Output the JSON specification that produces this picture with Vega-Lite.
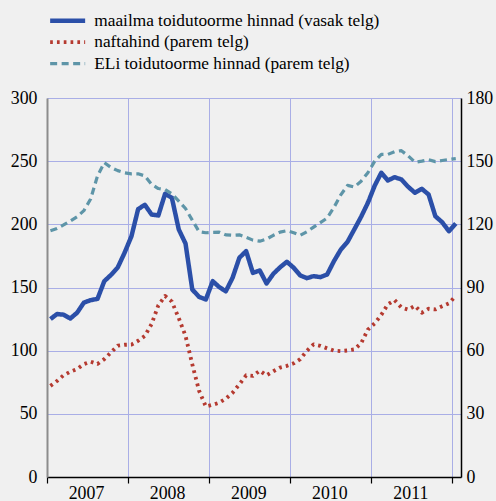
{
  "$schema": "https://vega.github.io/schema/vega-lite/v6.json",
  "width": 414,
  "height": 379,
  "autosize": {"type": "none"},
  "padding": {"left": 47, "top": 98, "right": 35, "bottom": 24},
  "background": "#f0f0f0",
  "config": {
    "view": {"stroke": null},
    "font": "Liberation Serif",
    "line": {"strokeCap": "butt", "strokeJoin": "round"},
    "axis": {"labelFont": "Liberation Serif", "labelFontSize": 17.8, "labelColor": "#000", "gridColor": "#a9aee6", "gridWidth": 1, "gridOpacity": 1, "title": null}
  },
  "data": {"values": [
    {"date": "2007-01", "maailma toidutoorme hinnad (vasak telg)": 125, "naftahind (parem telg)": 43.3, "ELi toidutoorme hinnad (parem telg)": 117},
    {"date": "2007-02", "maailma toidutoorme hinnad (vasak telg)": 129, "naftahind (parem telg)": 45.6, "ELi toidutoorme hinnad (parem telg)": 118},
    {"date": "2007-03", "maailma toidutoorme hinnad (vasak telg)": 128.5, "naftahind (parem telg)": 48.3, "ELi toidutoorme hinnad (parem telg)": 119.7},
    {"date": "2007-04", "maailma toidutoorme hinnad (vasak telg)": 125.5, "naftahind (parem telg)": 50, "ELi toidutoorme hinnad (parem telg)": 121.6},
    {"date": "2007-05", "maailma toidutoorme hinnad (vasak telg)": 130, "naftahind (parem telg)": 51.3, "ELi toidutoorme hinnad (parem telg)": 123.6},
    {"date": "2007-06", "maailma toidutoorme hinnad (vasak telg)": 138, "naftahind (parem telg)": 53.6, "ELi toidutoorme hinnad (parem telg)": 126.5},
    {"date": "2007-07", "maailma toidutoorme hinnad (vasak telg)": 140, "naftahind (parem telg)": 54.8, "ELi toidutoorme hinnad (parem telg)": 132},
    {"date": "2007-08", "maailma toidutoorme hinnad (vasak telg)": 141, "naftahind (parem telg)": 53.7, "ELi toidutoorme hinnad (parem telg)": 143},
    {"date": "2007-09", "maailma toidutoorme hinnad (vasak telg)": 155, "naftahind (parem telg)": 56, "ELi toidutoorme hinnad (parem telg)": 149.3},
    {"date": "2007-10", "maailma toidutoorme hinnad (vasak telg)": 160, "naftahind (parem telg)": 59.2, "ELi toidutoorme hinnad (parem telg)": 147},
    {"date": "2007-11", "maailma toidutoorme hinnad (vasak telg)": 166, "naftahind (parem telg)": 62.4, "ELi toidutoorme hinnad (parem telg)": 145.5},
    {"date": "2007-12", "maailma toidutoorme hinnad (vasak telg)": 177.5, "naftahind (parem telg)": 62.8, "ELi toidutoorme hinnad (parem telg)": 144.5},
    {"date": "2008-01", "maailma toidutoorme hinnad (vasak telg)": 190.6, "naftahind (parem telg)": 62.9, "ELi toidutoorme hinnad (parem telg)": 144},
    {"date": "2008-02", "maailma toidutoorme hinnad (vasak telg)": 212, "naftahind (parem telg)": 64.7, "ELi toidutoorme hinnad (parem telg)": 144},
    {"date": "2008-03", "maailma toidutoorme hinnad (vasak telg)": 215.5, "naftahind (parem telg)": 67, "ELi toidutoorme hinnad (parem telg)": 143},
    {"date": "2008-04", "maailma toidutoorme hinnad (vasak telg)": 207.8, "naftahind (parem telg)": 72.6, "ELi toidutoorme hinnad (parem telg)": 139},
    {"date": "2008-05", "maailma toidutoorme hinnad (vasak telg)": 207, "naftahind (parem telg)": 81.5, "ELi toidutoorme hinnad (parem telg)": 137},
    {"date": "2008-06", "maailma toidutoorme hinnad (vasak telg)": 224.2, "naftahind (parem telg)": 86, "ELi toidutoorme hinnad (parem telg)": 136.5},
    {"date": "2008-07", "maailma toidutoorme hinnad (vasak telg)": 221, "naftahind (parem telg)": 83.3, "ELi toidutoorme hinnad (parem telg)": 134.5},
    {"date": "2008-08", "maailma toidutoorme hinnad (vasak telg)": 196, "naftahind (parem telg)": 75.5, "ELi toidutoorme hinnad (parem telg)": 131},
    {"date": "2008-09", "maailma toidutoorme hinnad (vasak telg)": 184.8, "naftahind (parem telg)": 67, "ELi toidutoorme hinnad (parem telg)": 127.5},
    {"date": "2008-10", "maailma toidutoorme hinnad (vasak telg)": 148.4, "naftahind (parem telg)": 53.5, "ELi toidutoorme hinnad (parem telg)": 122},
    {"date": "2008-11", "maailma toidutoorme hinnad (vasak telg)": 142.6, "naftahind (parem telg)": 41, "ELi toidutoorme hinnad (parem telg)": 116.5},
    {"date": "2008-12", "maailma toidutoorme hinnad (vasak telg)": 140.5, "naftahind (parem telg)": 33.5, "ELi toidutoorme hinnad (parem telg)": 116},
    {"date": "2009-01", "maailma toidutoorme hinnad (vasak telg)": 155, "naftahind (parem telg)": 34.3, "ELi toidutoorme hinnad (parem telg)": 116.2},
    {"date": "2009-02", "maailma toidutoorme hinnad (vasak telg)": 150.3, "naftahind (parem telg)": 35.3, "ELi toidutoorme hinnad (parem telg)": 116.3},
    {"date": "2009-03", "maailma toidutoorme hinnad (vasak telg)": 147, "naftahind (parem telg)": 37.2, "ELi toidutoorme hinnad (parem telg)": 115},
    {"date": "2009-04", "maailma toidutoorme hinnad (vasak telg)": 157.7, "naftahind (parem telg)": 40, "ELi toidutoorme hinnad (parem telg)": 114.8},
    {"date": "2009-05", "maailma toidutoorme hinnad (vasak telg)": 173.5, "naftahind (parem telg)": 44, "ELi toidutoorme hinnad (parem telg)": 115},
    {"date": "2009-06", "maailma toidutoorme hinnad (vasak telg)": 178.8, "naftahind (parem telg)": 48.3, "ELi toidutoorme hinnad (parem telg)": 113.8},
    {"date": "2009-07", "maailma toidutoorme hinnad (vasak telg)": 161.6, "naftahind (parem telg)": 48, "ELi toidutoorme hinnad (parem telg)": 112.5},
    {"date": "2009-08", "maailma toidutoorme hinnad (vasak telg)": 163.5, "naftahind (parem telg)": 50.5, "ELi toidutoorme hinnad (parem telg)": 112},
    {"date": "2009-09", "maailma toidutoorme hinnad (vasak telg)": 153.2, "naftahind (parem telg)": 48.3, "ELi toidutoorme hinnad (parem telg)": 113},
    {"date": "2009-10", "maailma toidutoorme hinnad (vasak telg)": 160.8, "naftahind (parem telg)": 50.2, "ELi toidutoorme hinnad (parem telg)": 114.8},
    {"date": "2009-11", "maailma toidutoorme hinnad (vasak telg)": 166, "naftahind (parem telg)": 52, "ELi toidutoorme hinnad (parem telg)": 116.3},
    {"date": "2009-12", "maailma toidutoorme hinnad (vasak telg)": 170.4, "naftahind (parem telg)": 52.8, "ELi toidutoorme hinnad (parem telg)": 117},
    {"date": "2010-01", "maailma toidutoorme hinnad (vasak telg)": 165.6, "naftahind (parem telg)": 54, "ELi toidutoorme hinnad (parem telg)": 116},
    {"date": "2010-02", "maailma toidutoorme hinnad (vasak telg)": 159.5, "naftahind (parem telg)": 56, "ELi toidutoorme hinnad (parem telg)": 114.8},
    {"date": "2010-03", "maailma toidutoorme hinnad (vasak telg)": 157.4, "naftahind (parem telg)": 59.9, "ELi toidutoorme hinnad (parem telg)": 116.5},
    {"date": "2010-04", "maailma toidutoorme hinnad (vasak telg)": 159, "naftahind (parem telg)": 63, "ELi toidutoorme hinnad (parem telg)": 118.7},
    {"date": "2010-05", "maailma toidutoorme hinnad (vasak telg)": 158.2, "naftahind (parem telg)": 62.3, "ELi toidutoorme hinnad (parem telg)": 120.8},
    {"date": "2010-06", "maailma toidutoorme hinnad (vasak telg)": 160.3, "naftahind (parem telg)": 61.1, "ELi toidutoorme hinnad (parem telg)": 123},
    {"date": "2010-07", "maailma toidutoorme hinnad (vasak telg)": 170.8, "naftahind (parem telg)": 60, "ELi toidutoorme hinnad (parem telg)": 128},
    {"date": "2010-08", "maailma toidutoorme hinnad (vasak telg)": 180, "naftahind (parem telg)": 59.8, "ELi toidutoorme hinnad (parem telg)": 134},
    {"date": "2010-09", "maailma toidutoorme hinnad (vasak telg)": 186.2, "naftahind (parem telg)": 60.1, "ELi toidutoorme hinnad (parem telg)": 138.5},
    {"date": "2010-10", "maailma toidutoorme hinnad (vasak telg)": 196, "naftahind (parem telg)": 60.6, "ELi toidutoorme hinnad (parem telg)": 137.7},
    {"date": "2010-11", "maailma toidutoorme hinnad (vasak telg)": 206, "naftahind (parem telg)": 63.5, "ELi toidutoorme hinnad (parem telg)": 140.5},
    {"date": "2010-12", "maailma toidutoorme hinnad (vasak telg)": 217, "naftahind (parem telg)": 70, "ELi toidutoorme hinnad (parem telg)": 144.5},
    {"date": "2011-01", "maailma toidutoorme hinnad (vasak telg)": 230.7, "naftahind (parem telg)": 73, "ELi toidutoorme hinnad (parem telg)": 150},
    {"date": "2011-02", "maailma toidutoorme hinnad (vasak telg)": 240.8, "naftahind (parem telg)": 77, "ELi toidutoorme hinnad (parem telg)": 153.2},
    {"date": "2011-03", "maailma toidutoorme hinnad (vasak telg)": 234.7, "naftahind (parem telg)": 82, "ELi toidutoorme hinnad (parem telg)": 153.2},
    {"date": "2011-04", "maailma toidutoorme hinnad (vasak telg)": 237.3, "naftahind (parem telg)": 84, "ELi toidutoorme hinnad (parem telg)": 154.5},
    {"date": "2011-05", "maailma toidutoorme hinnad (vasak telg)": 235.5, "naftahind (parem telg)": 80.5, "ELi toidutoorme hinnad (parem telg)": 155},
    {"date": "2011-06", "maailma toidutoorme hinnad (vasak telg)": 229.7, "naftahind (parem telg)": 79.5, "ELi toidutoorme hinnad (parem telg)": 152.5},
    {"date": "2011-07", "maailma toidutoorme hinnad (vasak telg)": 225, "naftahind (parem telg)": 81.3, "ELi toidutoorme hinnad (parem telg)": 149.5},
    {"date": "2011-08", "maailma toidutoorme hinnad (vasak telg)": 228.1, "naftahind (parem telg)": 78, "ELi toidutoorme hinnad (parem telg)": 150},
    {"date": "2011-09", "maailma toidutoorme hinnad (vasak telg)": 223.6, "naftahind (parem telg)": 79.9, "ELi toidutoorme hinnad (parem telg)": 150.7},
    {"date": "2011-10", "maailma toidutoorme hinnad (vasak telg)": 206.4, "naftahind (parem telg)": 79.6, "ELi toidutoorme hinnad (parem telg)": 149.8},
    {"date": "2011-11", "maailma toidutoorme hinnad (vasak telg)": 201.7, "naftahind (parem telg)": 81.1, "ELi toidutoorme hinnad (parem telg)": 150.3},
    {"date": "2011-12", "maailma toidutoorme hinnad (vasak telg)": 194.6, "naftahind (parem telg)": 82.5, "ELi toidutoorme hinnad (parem telg)": 150.8},
    {"date": "2012-01", "maailma toidutoorme hinnad (vasak telg)": 200.7, "naftahind (parem telg)": 86, "ELi toidutoorme hinnad (parem telg)": 151.2}
  ]},
  "transform": [
    {"fold": ["maailma toidutoorme hinnad (vasak telg)", "naftahind (parem telg)", "ELi toidutoorme hinnad (parem telg)"], "as": ["series", "value"]}
  ],
  "encoding": {
    "x": {
      "field": "date",
      "timeUnit": "utcyearmonth",
      "type": "temporal",
      "bandPosition": 0.5,
      "scale": {"type": "utc", "domain": [{"year": 2007, "month": 1, "date": 1, "utc": true}, {"year": 2012, "month": 2, "date": 9, "utc": true}]},
      "axis": {
        "title": null,
        "values": [
          {"year": 2007, "month": 1, "date": 1, "utc": true},
          {"year": 2008, "month": 1, "date": 1, "utc": true},
          {"year": 2009, "month": 1, "date": 1, "utc": true},
          {"year": 2010, "month": 1, "date": 1, "utc": true},
          {"year": 2011, "month": 1, "date": 1, "utc": true},
          {"year": 2012, "month": 1, "date": 1, "utc": true}
        ],
        "labelExpr": "utcyear(datum.value) < 2012 ? utcFormat(datum.value, '%Y') : ''",
        "labelOffset": 39,
        "labelAlign": "center",
        "labelFlush": false,
        "labelOverlap": false,
        "labelBound": false,
        "labelPadding": 1,
        "tickSize": 6,
        "tickColor": "#000",
        "tickWidth": 1.2,
        "domainColor": "#000",
        "domainWidth": 1.5,
        "grid": true
      }
    },
    "color": {
      "field": "series",
      "type": "nominal",
      "scale": {
        "domain": ["maailma toidutoorme hinnad (vasak telg)", "naftahind (parem telg)", "ELi toidutoorme hinnad (parem telg)"],
        "range": ["#2b4fa8", "#b53a30", "#5e95a8"]
      },
      "legend": {
        "orient": "none",
        "legendX": 12,
        "legendY": -86,
        "title": null,
        "symbolType": "M-5,0H5",
        "symbolSize": 49,
        "labelFont": "Liberation Serif",
        "labelFontSize": 17.3,
        "labelColor": "#000",
        "labelLimit": 500,
        "labelOffset": 18,
        "rowPadding": 3.5,
        "padding": 0
      }
    },
    "strokeDash": {
      "field": "series",
      "type": "nominal",
      "scale": {
        "domain": ["maailma toidutoorme hinnad (vasak telg)", "naftahind (parem telg)", "ELi toidutoorme hinnad (parem telg)"],
        "range": [[1, 0], [2.7, 4.1], [7, 4.5]]
      }
    },
    "strokeWidth": {
      "field": "series",
      "type": "nominal",
      "scale": {
        "domain": ["maailma toidutoorme hinnad (vasak telg)", "naftahind (parem telg)", "ELi toidutoorme hinnad (parem telg)"],
        "range": [4.5, 3.2, 4]
      }
    }
  },
  "layer": [
    {
      "transform": [{"filter": "datum.series === 'maailma toidutoorme hinnad (vasak telg)'"}],
      "mark": {"type": "line"},
      "encoding": {
        "y": {
          "field": "value",
          "type": "quantitative",
          "scale": {"domain": [0, 300], "nice": false},
          "axis": {
            "orient": "left",
            "title": null,
            "values": [0, 50, 100, 150, 200, 250, 300],
            "grid": true,
            "ticks": false,
            "tickSize": 0,
            "labelPadding": 10,
            "domainColor": "#8c8c8c",
            "domainWidth": 2
          }
        }
      }
    },
    {
      "transform": [{"filter": "datum.series !== 'maailma toidutoorme hinnad (vasak telg)'"}],
      "mark": {"type": "line"},
      "encoding": {
        "y": {
          "field": "value",
          "type": "quantitative",
          "scale": {"domain": [0, 180], "nice": false},
          "axis": {
            "orient": "right",
            "title": null,
            "values": [0, 30, 60, 90, 120, 150, 180],
            "grid": false,
            "ticks": false,
            "tickSize": 0,
            "labelPadding": 5,
            "domainColor": "#000",
            "domainWidth": 1.5
          }
        }
      }
    }
  ],
  "resolve": {"scale": {"y": "independent"}}
}
